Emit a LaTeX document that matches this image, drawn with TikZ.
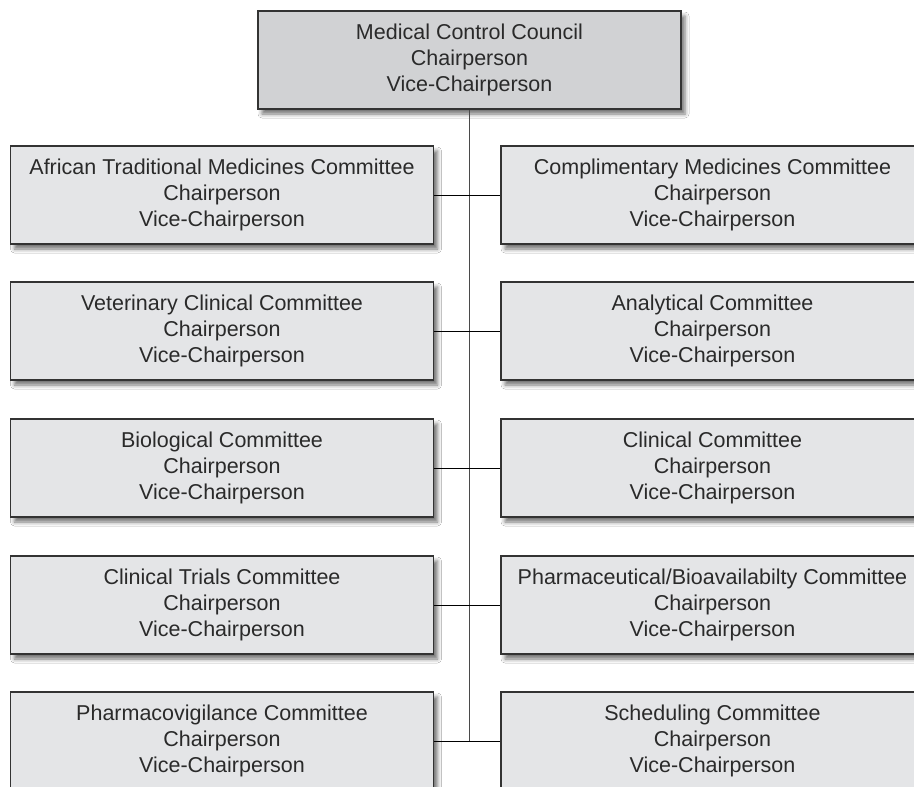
\documentclass[tikz,border=0pt]{standalone}
\usepackage{fontspec}
\setmainfont{Liberation Sans}
\usetikzlibrary{shadows.blur}
\definecolor{boxfill}{HTML}{E4E5E7}
\definecolor{topfill}{HTML}{D1D2D4}
\definecolor{boxline}{HTML}{333333}
\definecolor{stem}{HTML}{4A4A4A}
\definecolor{txt}{HTML}{2A2A2A}
\begin{document}
\begin{tikzpicture}[x=1pt, y=-1pt,
  unit/.style={draw=boxline, line width=1.4pt, fill=boxfill,
    minimum width=423pt, minimum height=98pt, inner sep=0pt,
    align=center, text=txt, font={\fontsize{21.5}{26}\selectfont},
    blur shadow={shadow xshift=4pt, shadow yshift=-5pt,
      shadow blur radius=4pt, shadow opacity=55}},
  council/.style={unit, fill=topfill},
  stemline/.style={draw=stem, line width=1.6pt},
  link/.style={draw=black, line width=1pt}]
\path[use as bounding box, clip] (0,0) rectangle (914,787);
\fill[white] (0,0) rectangle (914,787);

% council
\node[council] (mcc) at (469.5,60) {Medical Control Council\\Chairperson\\Vice-Chairperson};

% committees, left column
\node[unit] (l1) at (222,195) {African Traditional Medicines Committee\\Chairperson\\Vice-Chairperson};
\node[unit] (l2) at (222,331) {Veterinary Clinical Committee\\Chairperson\\Vice-Chairperson};
\node[unit] (l3) at (222,468) {Biological Committee\\Chairperson\\Vice-Chairperson};
\node[unit] (l4) at (222,605) {Clinical Trials Committee\\Chairperson\\Vice-Chairperson};
\node[unit] (l5) at (222,741) {Pharmacovigilance Committee\\Chairperson\\Vice-Chairperson};

% committees, right column
\node[unit] (r1) at (712.5,195) {Complimentary Medicines Committee\\Chairperson\\Vice-Chairperson};
\node[unit] (r2) at (712.5,331) {Analytical Committee\\Chairperson\\Vice-Chairperson};
\node[unit] (r3) at (712.5,468) {Clinical Committee\\Chairperson\\Vice-Chairperson};
\node[unit] (r4) at (712.5,605) {Pharmaceutical/Bioavailabilty Committee\\Chairperson\\Vice-Chairperson};
\node[unit] (r5) at (712.5,741) {Scheduling Committee\\Chairperson\\Vice-Chairperson};

% trunk
\coordinate (trunkend) at (mcc.south |- l5.east);
\draw[stemline] (mcc.south) -- (trunkend);

% branches
\foreach \i in {1,...,5}
  \draw[link] (l\i.east) -- (r\i.west);
\end{tikzpicture}
\end{document}
